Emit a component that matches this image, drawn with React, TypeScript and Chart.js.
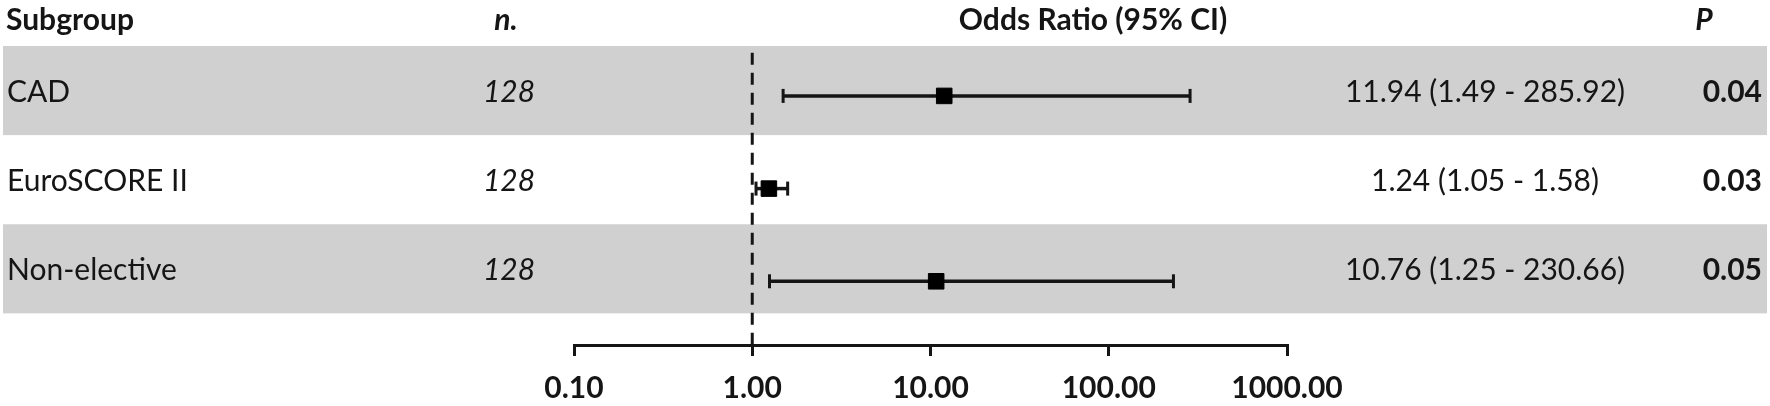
import React, { useEffect, useRef } from 'react';
import { Chart, registerables } from 'chart.js';

Chart.register(...registerables);

// ---- data ----
const subgroups = ['CAD', 'EuroSCORE II', 'Non-elective'];
const nValues = ['128', '128', '128'];
const oddsRatios = [11.94, 1.24, 10.76];
const ciLower = [1.49, 1.05, 1.25];
const ciUpper = [285.92, 1.58, 230.66];
const pValues = ['0.04', '0.03', '0.05'];
const xTicks = [0.1, 1, 10, 100, 1000];
const headers = ['Subgroup', 'n.', 'Odds Ratio (95% CI)', 'P'];

// ---- layout ----
const W = 1770;
const H = 406;
const Y_MAX = 3.355;
const FONT = 'Lato, "Open Sans", sans-serif';
const FS = 30;
const INK = '#151515';
const BAND = '#d0d0d0';
const MARK_START = 0.56;
const MARK_STEP = 1.04;
const markY = (i: number) => MARK_START + i * MARK_STEP;

const ciText = (i: number) =>
  `${oddsRatios[i].toFixed(2)} (${ciLower[i].toFixed(2)} - ${ciUpper[i].toFixed(2)})`;

const tablePlugin = {
  id: 'forestTable',
  beforeDatasetsDraw(chart: any) {
    const { ctx } = chart;
    const y = chart.scales.y;
    ctx.save();
    ctx.fillStyle = BAND;
    subgroups.forEach((_, i) => {
      if (i % 2 === 0) {
        const top = y.getPixelForValue(i);
        const bot = y.getPixelForValue(i + 1);
        ctx.fillRect(3, top, W - 6, bot - top);
      }
    });
    ctx.restore();
  },
  afterDraw(chart: any) {
    const { ctx } = chart;
    const y = chart.scales.y;
    ctx.save();
    ctx.fillStyle = INK;
    ctx.textBaseline = 'middle';
    const hy = 20;
    ctx.font = `bold ${FS}px ${FONT}`;
    ctx.textAlign = 'left';
    ctx.fillText(headers[0], 6, hy);
    ctx.textAlign = 'center';
    ctx.font = `italic bold ${FS}px ${FONT}`;
    ctx.fillText(headers[1], 506, hy);
    ctx.font = `bold ${FS}px ${FONT}`;
    ctx.fillText(headers[2], 1093, hy);
    ctx.font = `italic bold ${FS}px ${FONT}`;
    ctx.fillText(headers[3], 1704, hy);

    subgroups.forEach((label, i) => {
      const cy = y.getPixelForValue(i + 0.5) + 2;
      ctx.font = `${FS}px ${FONT}`;
      ctx.textAlign = 'left';
      ctx.fillText(label, 7, cy);
      ctx.font = `italic ${FS}px ${FONT}`;
      ctx.textAlign = 'center';
      ctx.fillText(nValues[i], 509, cy);
      ctx.font = `${FS}px ${FONT}`;
      ctx.fillText(ciText(i), 1485, cy);
      ctx.font = `bold ${FS}px ${FONT}`;
      ctx.textAlign = 'right';
      ctx.fillText(pValues[i], 1762, cy);
    });
    ctx.restore();
  },
};

export default function App() {
  const ref = useRef<HTMLCanvasElement | null>(null);

  useEffect(() => {
    if (!ref.current) return;
    const ciSets = subgroups.map((_, i) => ({
      type: 'line' as const,
      data: [
        { x: ciLower[i], y: markY(i) },
        { x: ciUpper[i], y: markY(i) },
      ],
      borderColor: INK,
      borderWidth: 3.5,
      showLine: true,
      pointStyle: 'line' as const,
      rotation: 90,
      pointRadius: 7,
      pointBorderWidth: 3,
      pointBorderColor: INK,
      pointHoverRadius: 0,
    }));
    const chart = new Chart(ref.current, {
      type: 'scatter',
      data: {
        datasets: [
          {
            type: 'scatter' as const,
            data: oddsRatios.map((v, i) => ({ x: v, y: markY(i) })),
            pointStyle: 'rect',
            pointRadius: 11,
            backgroundColor: '#000',
            borderColor: '#000',
            borderWidth: 1,
          } as any,
          ...ciSets,
          {
            type: 'line' as const,
            data: [
              { x: 1, y: 0.075 },
              { x: 1, y: Y_MAX },
            ],
            borderColor: INK,
            borderWidth: 3,
            borderDash: [12, 8],
            pointRadius: 0,
            showLine: true,
          },
        ],
      },
      options: {
        animation: false,
        responsive: false,
        maintainAspectRatio: false,
        events: [],
        layout: { padding: { left: 574, right: 483, top: 46, bottom: 0 } },
        plugins: { legend: { display: false }, tooltip: { enabled: false } },
        scales: {
          x: {
            type: 'logarithmic',
            min: 0.1,
            max: 1000,
            afterBuildTicks: (s: any) => {
              s.ticks = xTicks.map((v) => ({ value: v }));
            },
            afterFit: (s: any) => {
              s.height = H - 345;
            },
            ticks: {
              callback: (v: any) => Number(v).toFixed(2),
              font: { family: FONT, size: FS, weight: 'bold' },
              color: INK,
              padding: 14,
              autoSkip: false,
              maxRotation: 0,
            },
            grid: {
              drawOnChartArea: false,
              drawTicks: true,
              tickLength: 11,
              lineWidth: 3,
              color: INK,
            },
            border: { display: true, color: INK, width: 3 },
          },
          y: { type: 'linear', min: 0, max: Y_MAX, reverse: true, display: false },
        },
      },
      plugins: [tablePlugin],
    } as any);
    return () => chart.destroy();
  }, []);

  return (
    <div style={{ position: 'absolute', left: 0, top: 0, width: W, height: H, background: '#fff' }}>
      <canvas ref={ref} width={W} height={H} style={{ width: W, height: H, display: 'block' }} />
    </div>
  );
}
